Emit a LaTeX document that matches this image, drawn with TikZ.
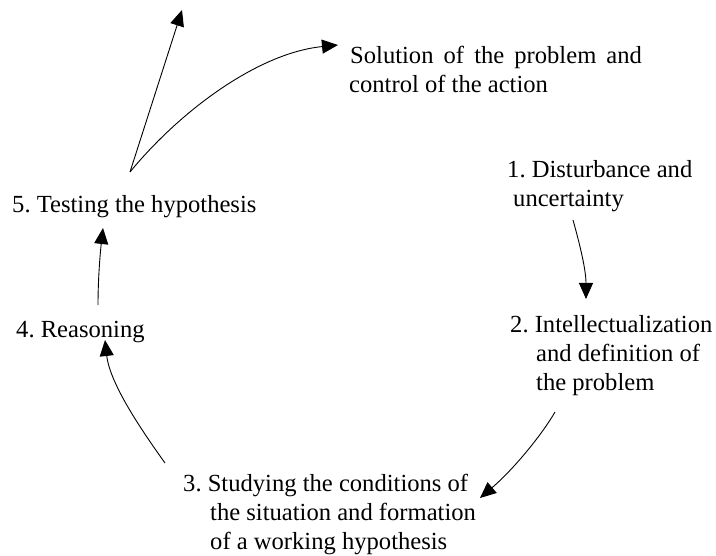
\documentclass[tikz,border=0pt]{standalone}
\usepackage{fontspec}
\setmainfont{Liberation Serif}
\usetikzlibrary{arrows.meta}
\begin{document}
\begin{tikzpicture}[x=1pt,y=-1pt,
  lbl/.style={anchor=base west,inner sep=0pt,font=\fontsize{24.6}{29}\selectfont\frenchspacing},
  arr/.style={draw=black,line width=0.9pt,-{Triangle[length=16pt,width=14pt]}}]
\useasboundingbox (0,0) rectangle (716,556);
% texts
\node[lbl] (sol1) at (350,64) {\spaceskip=0.41em Solution of the problem and};
\node[lbl] (sol2) at (349,93) {control of the action};
\node[lbl] (a1) at (507,178) {1. Disturbance and};
\node[lbl] (a2) at (513,207) {uncertainty};
\node[lbl] (b1) at (510,333) {2. Intellectualization};
\node[lbl] (b2) at (536,362) {and definition of};
\node[lbl] (b3) at (536,391) {the problem};
\node[lbl] (c1) at (183,492) {3. Studying the conditions of};
\node[lbl] (c2) at (210,521) {the situation and formation};
\node[lbl] (c3) at (210,550) {of a working hypothesis};
\node[lbl] (d1) at (16,338) {4. Reasoning};
\node[lbl] (e1) at (12,213) {5. Testing the hypothesis};
% connector end points
\coordinate (eS) at (130,172);
\coordinate (eUp) at (182,10);
\coordinate (eSol) at (338,45);
\coordinate (aS) at (573,220);
\coordinate (aE) at (586,299);
\coordinate (bS) at (555,412);
\coordinate (bE) at (480,498);
\coordinate (cS) at (165,463);
\coordinate (cE) at (105,340);
\coordinate (dS) at (98,305);
\coordinate (dE) at (103,228);
% connectors
\draw[arr] (eS) -- (eUp);
\draw[arr] (eS) .. controls (180,111) and (258,53) .. (eSol);
\draw[arr] (aS) .. controls (580,245) and (586,270) .. (aE);
\draw[arr] (bS) .. controls (543,433) and (515,468) .. (bE);
\draw[arr] (cS) .. controls (145,435) and (110,385) .. (cE);
\draw[arr] (dS) .. controls (98,280) and (100,255) .. (dE);
\end{tikzpicture}
\end{document}
